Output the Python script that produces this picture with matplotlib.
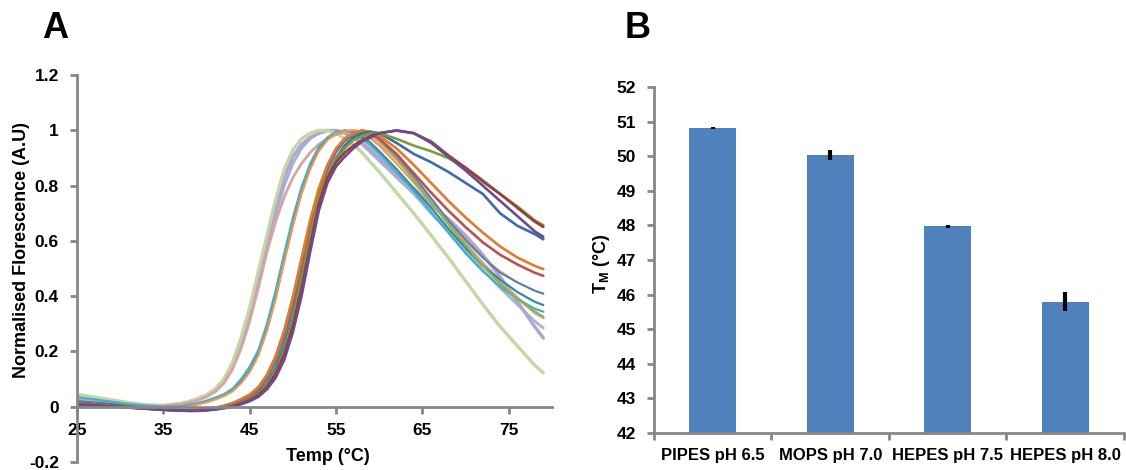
import matplotlib
matplotlib.use("Agg")
import matplotlib.pyplot as plt
import numpy as np

plt.rcParams['font.family'] = ['Liberation Sans', 'DejaVu Sans']
plt.rcParams['font.weight'] = 'bold'
plt.rcParams['mathtext.fontset'] = 'custom'
plt.rcParams['mathtext.rm'] = 'Liberation Sans:bold'

# ---- panel A: melt curves ----
temps = [25, 27, 29, 31, 33, 35, 37,
         38, 39, 40, 41, 42, 43, 44, 45, 46, 47, 48, 49, 50, 51, 52, 53, 54, 55, 56, 57, 58, 59, 60,
         62, 64, 66, 68, 70, 72, 74, 76, 78, 79]

pale_green = [.045, .035, .025, .015, .007, .005, .012,
              .02, .03, .043, .065, .10, .16, .25, .36, .49, .62, .75, .86, .93, .97, .99, 1.0, 1.0, .99, .97, .95, .92, .885, .85,
              .775, .70, .62, .54, .455, .37, .29, .22, .15, .123]
light_purple = [.025, .02, .013, .007, .003, .003, .01,
                .017, .027, .04, .06, .095, .15, .235, .34, .47, .60, .72, .83, .905, .95, .975, .99, 1.0, 1.0, .99, .975, .955, .93, .90,
                .84, .79, .73, .68, .62, .55, .47, .38, .29, .249]
light_blue = [.03, .022, .015, .008, .004, .003, .009,
              .015, .024, .036, .055, .088, .14, .22, .32, .44, .57, .69, .80, .88, .935, .97, .99, 1.0, 1.0, .99, .975, .95, .92, .89,
              .83, .77, .70, .635, .565, .495, .43, .37, .31, .285]
pink = [.02, .016, .011, .006, .003, .003, .009,
        .015, .024, .036, .054, .085, .135, .21, .31, .43, .56, .67, .76, .83, .88, .92, .95, .97, .985, .995, 1.0, .995, .98, .955,
        .895, .825, .745, .665, .59, .52, .455, .395, .34, .321]
teal = [.035, .027, .018, .01, .004, .0, .002,
        .007, .013, .022, .033, .045, .065, .10, .145, .205, .30, .42, .555, .685, .795, .88, .94, .975, .995, 1.0, .99, .97, .945, .915,
        .85, .78, .705, .63, .555, .49, .435, .39, .355, .344]
dark_teal = [.02, .015, .01, .005, .001, -.002, .0,
             .005, .011, .019, .029, .041, .058, .09, .13, .19, .28, .395, .53, .66, .775, .865, .93, .97, .99, 1.0, .995, .98, .955, .925,
             .86, .79, .72, .645, .575, .51, .46, .415, .38, .368]
orange = [.006, .004, .002, .0, -.003, -.005, -.003,
          .002, .008, .016, .026, .038, .055, .085, .125, .185, .275, .39, .525, .655, .77, .86, .925, .965, .99, 1.0, 1.0, .99, .97, .945,
          .88, .81, .74, .67, .60, .54, .49, .45, .42, .408]
red = [.012, .008, .004, .0, -.005, -.01, -.013,
       -.013, -.012, -.009, -.005, .002, .012, .025, .04, .065, .11, .175, .265, .38, .52, .66, .78, .87, .93, .97, .99, 1.0, .99, .97,
       .915, .845, .775, .71, .65, .595, .55, .515, .485, .474]
dark_orange = [.006, .004, .002, -.002, -.006, -.01, -.013,
               -.013, -.011, -.008, -.004, .003, .013, .027, .043, .07, .115, .18, .275, .395, .535, .675, .79, .875, .935, .97, .99, 1.0, .995, .98,
               .935, .875, .81, .745, .685, .63, .58, .54, .51, .498]
blue = [.005, .003, .001, -.003, -.007, -.011, -.014,
        -.014, -.013, -.01, -.006, .0, .009, .02, .035, .058, .10, .16, .245, .36, .495, .635, .76, .855, .92, .96, .985, 1.0, .99, .97,
        .91, .835, .755, .675, .605, .54, .485, .45, .42, .41]
green2 = [.006, .004, .002, -.002, -.006, -.01, -.012,
          -.012, -.01, -.007, -.003, .004, .014, .028, .045, .072, .117, .185, .28, .40, .54, .675, .79, .875, .935, .97, .99, 1.0, .99, .965,
          .90, .82, .74, .66, .585, .51, .445, .39, .345, .326]
dark_blue = [.005, .003, .001, -.003, -.007, -.011, -.014,
             -.015, -.014, -.012, -.008, -.002, .006, .016, .03, .05, .085, .14, .22, .33, .465, .605, .73, .83, .90, .945, .975, .99, .995, .99,
             .955, .915, .885, .85, .81, .77, .70, .655, .625, .606]
green = [.005, .003, .001, -.003, -.007, -.011, -.013,
         -.014, -.013, -.011, -.007, -.002, .006, .015, .028, .047, .08, .13, .205, .32, .46, .615, .755, .84, .895, .935, .965, .98, .99, .99,
         .97, .945, .925, .90, .865, .82, .77, .725, .675, .657]
dark_red = [.008, .005, .002, -.002, -.006, -.01, -.013,
            -.014, -.014, -.012, -.009, -.004, .003, .012, .024, .042, .072, .12, .19, .295, .43, .585, .735, .83, .885, .92, .945, .965, .98, .99,
            1.0, .99, .96, .91, .865, .815, .77, .72, .67, .651]
purple = [.005, .003, .001, -.003, -.007, -.011, -.014,
          -.015, -.015, -.013, -.01, -.006, .0, .009, .02, .036, .063, .105, .17, .27, .40, .56, .71, .81, .87, .905, .935, .96, .975, .99,
          1.0, .99, .955, .905, .855, .80, .745, .69, .635, .615]

curves = [
    (light_blue, '#9DB5DA', 2.0), (light_purple, '#B1A5CC', 2.4), (pale_green, '#C4D6A6', 2.4),
    (pink, '#D9A3A2', 2.0), (dark_teal, '#2F8CA4', 1.6), (teal, '#4BACC6', 1.6),
    (orange, '#F79646', 1.4), (green2, '#8DB34F', 1.6), (blue, '#4F81BD', 1.4),
    (red, '#C0504D', 1.9), (dark_orange, '#E07A2E', 1.9), (dark_blue, '#3E6CA8', 1.9),
    (green, '#77A03C', 1.9), (dark_red, '#9B3B3B', 1.9), (purple, '#6B4C8F', 1.9),
]

# ---- panel B: melting temperatures ----
buffers = ['PIPES pH 6.5', 'MOPS pH 7.0', 'HEPES pH 7.5', 'HEPES pH 8.0']
tm = [50.82, 50.03, 47.97, 45.80]
tm_err = [0.03, 0.15, 0.05, 0.28]

axis_grey = '#878787'

fig = plt.figure(figsize=(11.26, 4.70), dpi=100)

axA = fig.add_axes([0.0684, 0.017, 0.4218, 0.823])
for vals, col, lw in curves:
    axA.plot(temps, vals, color=col, lw=lw, solid_capstyle='round', solid_joinstyle='round')
axA.set_xlim(25, 80)
axA.set_ylim(-0.2, 1.2)
axA.set_xticks([25, 35, 45, 55, 65, 75])
axA.set_yticks([-0.2, 0, 0.2, 0.4, 0.6, 0.8, 1.0, 1.2])
axA.set_yticklabels(['-0.2', '0', '0.2', '0.4', '0.6', '0.8', '1', '1.2'])
axA.spines['bottom'].set_position(('data', 0))
axA.set_xlabel('Temp (°C)', fontsize=13, fontweight='bold')
axA.xaxis.set_label_coords(0.528, 0.036)
axA.set_ylabel('Normalised Florescence (A.U)', fontsize=13, fontweight='bold')
axA.yaxis.label.set_va('center')
axA.yaxis.set_label_coords(-0.116, 0.548)

axB = fig.add_axes([0.5808, 0.0787, 0.4174, 0.736])
x = np.arange(len(buffers))
axB.bar(x, tm, width=0.4, color='#4F81BD', zorder=2)
axB.errorbar(x, tm, yerr=tm_err, fmt='none', ecolor='black', elinewidth=3, capsize=0, zorder=3)
axB.set_xlim(-0.5, 3.5)
axB.set_ylim(42, 52)
axB.set_yticks(range(42, 53))
axB.set_xticks(x)
axB.set_xticklabels(buffers, fontsize=12, fontweight='bold')
axB.set_xticks(np.arange(-0.5, 4.0, 1.0), minor=True)
axB.tick_params(axis='x', which='major', length=0, pad=11)
axB.tick_params(axis='x', which='minor', length=5, width=2, color=axis_grey, direction='out')
axB.set_ylabel(r'T$_\mathrm{M}$ (°C)', fontsize=13, fontweight='bold')
axB.yaxis.label.set_va('center')
axB.yaxis.set_label_coords(-0.112, 0.49)

for ax in (axA, axB):
    ax.spines['top'].set_visible(False)
    ax.spines['right'].set_visible(False)
    for s in ('left', 'bottom'):
        ax.spines[s].set_color(axis_grey)
        ax.spines[s].set_linewidth(2)
    ax.tick_params(axis='y', length=5, width=2, color=axis_grey, labelsize=12.5, pad=8)
    for lab in ax.get_yticklabels():
        lab.set_fontweight('bold')
axA.tick_params(axis='x', length=5, width=2, color=axis_grey, labelsize=12.5, pad=7)
for lab in axA.get_xticklabels():
    lab.set_fontweight('bold')

fig.text(0.037, 0.92, 'A', fontsize=26, fontweight='bold', va='baseline')
fig.text(0.555, 0.92, 'B', fontsize=26, fontweight='bold', va='baseline')

fig.savefig('out.png', dpi=100)
